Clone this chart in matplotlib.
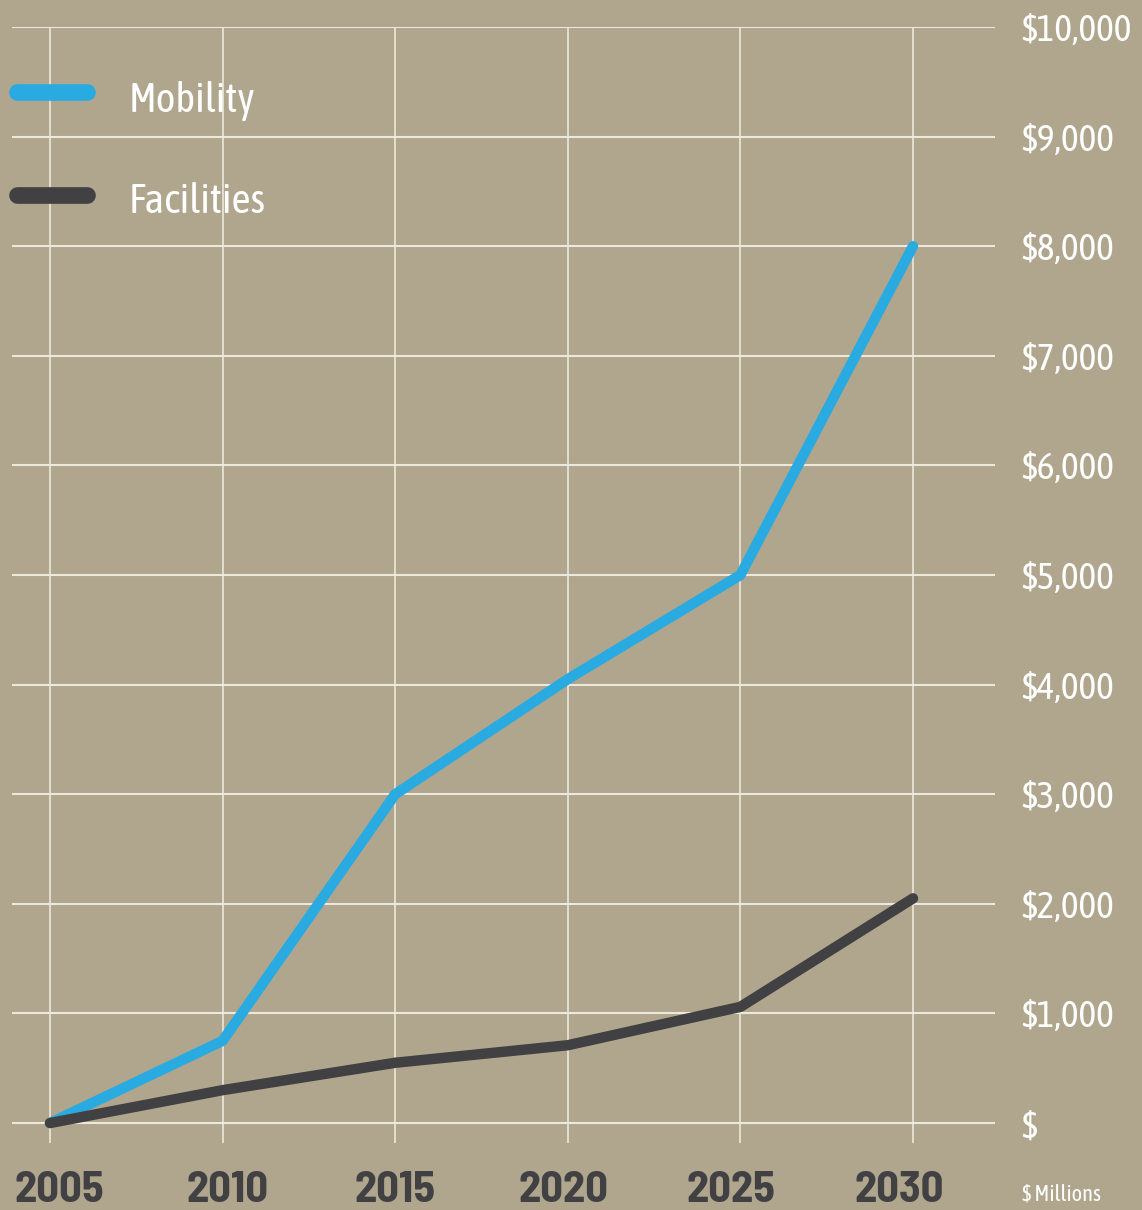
import matplotlib
matplotlib.use("Agg")
import matplotlib.pyplot as plt
from matplotlib.lines import Line2D

years = [2005, 2010, 2015, 2020, 2025, 2030]
mobility = [0, 750, 3000, 4050, 5000, 8000]
facilities = [0, 300, 550, 710, 1060, 2050]
y_ticks = [0, 1000, 2000, 3000, 4000, 5000, 6000, 7000, 8000, 9000, 10000]
y_labels = ["$", "$1,000", "$2,000", "$3,000", "$4,000", "$5,000",
            "$6,000", "$7,000", "$8,000", "$9,000", "$10,000"]
x_labels = ["2005", "2010", "2015", "2020", "2025", "2030"]
series_names = ["Mobility", "Facilities"]

plt.rcParams['font.family'] = ['Asap Condensed', 'Barlow Semi Condensed', 'DejaVu Sans']

BG = "#b0a68e"
BLUE = "#29abe2"
DARK = "#414042"
GRID = "#ece8dc"

W, H = 1142, 1210
fig = plt.figure(figsize=(W/100, H/100), dpi=100, facecolor=BG)
ax = fig.add_axes([12/W, 1-1143/H, (995-12)/W, (1143-27)/H])
ax.set_facecolor(BG)
for s in ax.spines.values():
    s.set_visible(False)

ax.set_xlim(2003.90, 2032.375)
ax.set_ylim(-182, 10000)

for y in y_ticks:
    ax.axhline(y, color=GRID, lw=1.5, zorder=1)
for x in years:
    ax.axvline(x, color=GRID, lw=1.2, zorder=1)

ax.plot(years, mobility, color=BLUE, lw=7.5, solid_capstyle='round', solid_joinstyle='round', zorder=3)
ax.plot(years, facilities, color=DARK, lw=7.5, solid_capstyle='round', solid_joinstyle='round', zorder=4)

ax.yaxis.tick_right()
ax.set_yticks(y_ticks)
ax.set_yticklabels(y_labels, color="white", fontsize=27)
ax.tick_params(axis='y', length=0, pad=19)
for t in ax.get_yticklabels():
    t.set_horizontalalignment('left')

# year labels sit on a slightly tighter spacing than the gridlines
label_pos = [2015 + (yr - 2015) * (168 / 172.6) for yr in years]
ax.set_xticks(label_pos)
ax.set_xticklabels(x_labels, color=DARK, fontsize=32, fontweight='bold',
                   family=['Barlow Semi Condensed', 'Asap Condensed', 'DejaVu Sans'])
ax.tick_params(axis='x', length=0, pad=42.5)
for t in ax.get_xticklabels():
    t.set_verticalalignment('baseline')

fig.text(1022/W, 1-1200/H, "$ Millions", color="white", fontsize=16, ha='left', va='baseline')

# legend
for i, (name, col) in enumerate(zip(series_names, [BLUE, DARK])):
    yy = 1 - (92 + 103*i)/H
    fig.add_artist(Line2D([17/W, 87/W], [yy, yy], color=col, lw=12, solid_capstyle='round'))
    fig.text(129/W, 1 - (112 + 101*i)/H, name, color="white", fontsize=30, ha='left', va='baseline')

fig.savefig("out.png", dpi=100, facecolor=BG)
